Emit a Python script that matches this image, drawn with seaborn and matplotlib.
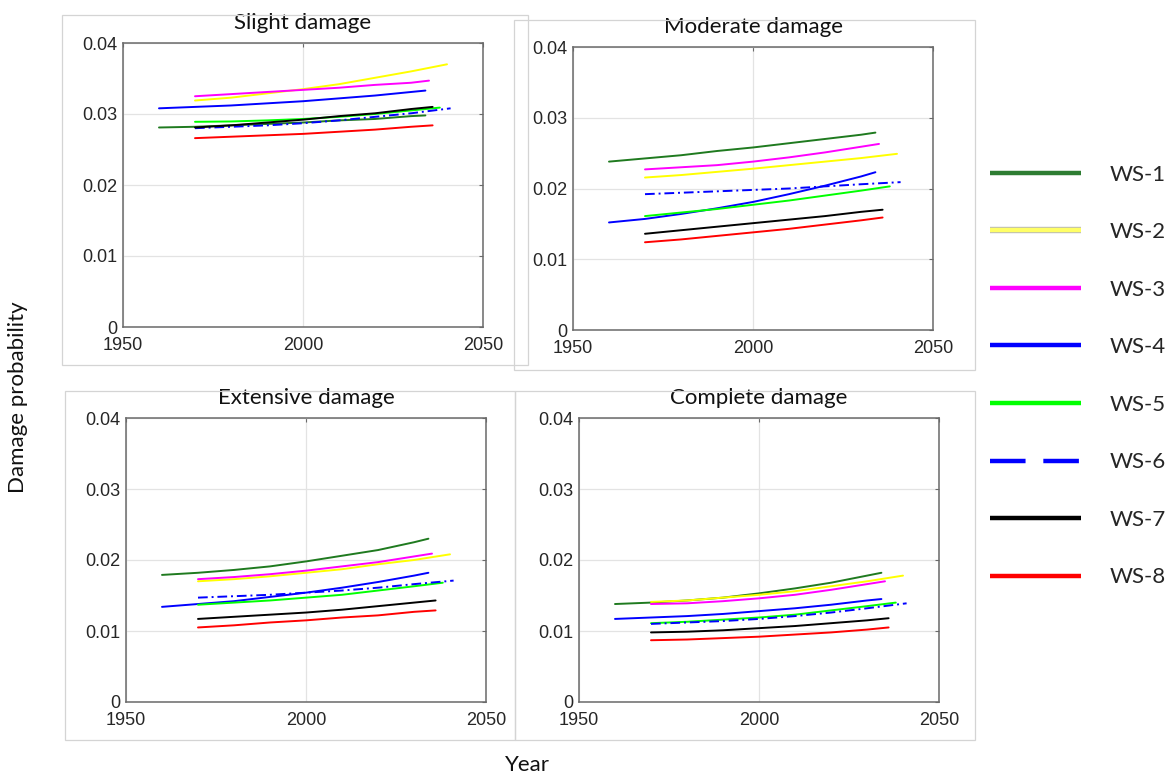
import matplotlib
matplotlib.use("Agg")
import matplotlib.pyplot as plt
import matplotlib.patheffects as pe
import seaborn as sns
import pandas as pd
from matplotlib.lines import Line2D
from matplotlib.patches import Rectangle

# ---------------- data ----------------
series = ["WS-1", "WS-2", "WS-3", "WS-4", "WS-5", "WS-6", "WS-7", "WS-8"]
panel_titles = ["Slight damage", "Moderate damage", "Extensive damage", "Complete damage"]

yrs_ws1 = [1960, 1970, 1980, 1990, 2000, 2010, 2020, 2030, 2034]
yrs_ws2 = [1970, 1980, 1990, 2000, 2010, 2020, 2030, 2040]
yrs_ws3 = [1970, 1980, 1990, 2000, 2010, 2020, 2030, 2035]
yrs_ws4 = [1960, 1970, 1980, 1990, 2000, 2010, 2020, 2030, 2034]
yrs_ws5 = [1970, 1980, 1990, 2000, 2010, 2020, 2030, 2038]
yrs_ws6 = [1970, 1980, 1990, 2000, 2010, 2020, 2030, 2041]
yrs_ws7 = [1970, 1980, 1990, 2000, 2010, 2020, 2030, 2036]
yrs_ws8 = [1970, 1980, 1990, 2000, 2010, 2020, 2030, 2036]

slight_vals = [
    [0.0281, 0.0282, 0.0284, 0.0286, 0.0288, 0.0291, 0.0293, 0.0297, 0.0298],
    [0.0319, 0.0323, 0.0329, 0.0335, 0.0342, 0.0351, 0.0360, 0.0370],
    [0.0325, 0.0328, 0.0331, 0.0334, 0.0337, 0.0341, 0.0344, 0.0347],
    [0.0308, 0.0310, 0.0312, 0.0315, 0.0318, 0.0322, 0.0326, 0.0331, 0.0333],
    [0.0289, 0.02895, 0.0291, 0.0293, 0.0296, 0.0300, 0.0305, 0.0309],
    [0.0280, 0.0282, 0.0284, 0.0287, 0.0291, 0.0296, 0.0301, 0.0308],
    [0.0281, 0.0284, 0.0288, 0.0292, 0.0297, 0.0301, 0.0307, 0.0310],
    [0.0266, 0.0268, 0.0270, 0.0272, 0.0275, 0.0278, 0.0282, 0.0284],
]
moderate_vals = [
    [0.0238, 0.02425, 0.0247, 0.0253, 0.0258, 0.0264, 0.0270, 0.0276, 0.0279],
    [0.02155, 0.0219, 0.02235, 0.0228, 0.0233, 0.0238, 0.0243, 0.0249],
    [0.0227, 0.0230, 0.0233, 0.0238, 0.0244, 0.0251, 0.0259, 0.0263],
    [0.0152, 0.0157, 0.0164, 0.0172, 0.0181, 0.0192, 0.0204, 0.0217, 0.0223],
    [0.0161, 0.0166, 0.0171, 0.0177, 0.0183, 0.0190, 0.0197, 0.0203],
    [0.0192, 0.0194, 0.0196, 0.0198, 0.0200, 0.0203, 0.0206, 0.0209],
    [0.0136, 0.0141, 0.0146, 0.0151, 0.0156, 0.0161, 0.0167, 0.0170],
    [0.0124, 0.0128, 0.0133, 0.0138, 0.0143, 0.0149, 0.0155, 0.0159],
]
extensive_vals = [
    [0.0179, 0.0182, 0.0186, 0.0191, 0.0198, 0.0206, 0.0214, 0.0225, 0.0230],
    [0.0170, 0.0173, 0.0177, 0.0182, 0.0187, 0.0194, 0.0200, 0.0208],
    [0.0173, 0.0176, 0.0180, 0.0185, 0.0191, 0.0197, 0.0205, 0.0209],
    [0.0134, 0.0138, 0.0142, 0.0148, 0.0154, 0.0161, 0.0169, 0.0178, 0.0182],
    [0.0137, 0.0140, 0.0143, 0.0147, 0.0151, 0.0157, 0.0163, 0.0168],
    [0.0147, 0.0149, 0.0151, 0.0154, 0.0157, 0.0161, 0.0166, 0.0171],
    [0.0117, 0.0120, 0.0123, 0.0126, 0.0130, 0.0135, 0.0140, 0.0143],
    [0.0105, 0.0108, 0.0112, 0.0115, 0.0119, 0.0122, 0.0127, 0.0129],
]
complete_vals = [
    [0.0138, 0.0140, 0.0143, 0.0147, 0.0153, 0.0160, 0.0168, 0.0178, 0.0182],
    [0.0141, 0.0143, 0.0147, 0.0151, 0.0156, 0.0163, 0.0170, 0.0178],
    [0.0138, 0.0139, 0.0142, 0.0146, 0.0151, 0.0158, 0.0166, 0.0170],
    [0.0117, 0.0119, 0.0121, 0.0124, 0.0128, 0.0132, 0.0137, 0.0143, 0.0145],
    [0.0111, 0.0113, 0.0116, 0.0119, 0.0123, 0.0129, 0.0135, 0.0140],
    [0.0110, 0.0112, 0.0114, 0.0117, 0.0121, 0.0126, 0.0132, 0.0139],
    [0.0098, 0.0099, 0.0101, 0.0104, 0.0107, 0.0111, 0.0115, 0.0118],
    [0.0087, 0.0088, 0.0090, 0.0092, 0.0095, 0.0098, 0.0102, 0.0105],
]

x_ticks = [1950, 2000, 2050]
y_ticks = [0, 0.01, 0.02, 0.03, 0.04]
y_tick_labels = ["0", "0.01", "0.02", "0.03", "0.04"]

# ---------------- styles ----------------
series_years = [yrs_ws1, yrs_ws2, yrs_ws3, yrs_ws4, yrs_ws5, yrs_ws6, yrs_ws7, yrs_ws8]
panel_vals = [slight_vals, moderate_vals, extensive_vals, complete_vals]

line_colors = ["#1f7a1f", "#ffff00", "#ff00ff", "#0000ff", "#00ff00", "#0000ff", "#000000", "#ff0000"]
legend_colors = ["#2e7d32", "#ffff66", "#ff00ff", "#0000ff", "#00ff00", "#0000ff", "#000000", "#ff0000"]
palette = dict(zip(series, line_colors))
dashes = {s: "" for s in series}
dashes["WS-6"] = (5, 2, 1, 2)

sns.set_style("white")
plt.rcParams["font.family"] = ["Liberation Sans", "DejaVu Sans"]
label_font = ["Lato", "DejaVu Sans"]

W, H = 1173, 780
fig = plt.figure(figsize=(W / 100, H / 100), dpi=100)

# light panel frames (as in the composed reference image)
frames = [(62, 15, 528, 365), (514, 20, 975, 370), (65, 391, 515, 740), (515, 391, 975, 740)]
for (x0, y0, x1, y1) in frames:
    fig.patches.append(Rectangle((x0 / W, 1 - y1 / H), (x1 - x0) / W, (y1 - y0) / H,
                                 transform=fig.transFigure, fill=False,
                                 edgecolor="#d4d4d4", linewidth=0.9, zorder=0))

axes_px = [(123, 43, 483, 327), (573, 47, 933, 330), (126, 418, 486, 702), (579, 418, 939, 702)]

for title, vals, (x0, y0, x1, y1) in zip(panel_titles, panel_vals, axes_px):
    ax = fig.add_axes([x0 / W, 1 - y1 / H, (x1 - x0) / W, (y1 - y0) / H])
    rows = []
    for s, yrs, v in zip(series, series_years, vals):
        for yr, val in zip(yrs, v):
            rows.append({"Year": yr, "p": val, "series": s})
    df = pd.DataFrame(rows)
    sns.lineplot(data=df, x="Year", y="p", hue="series", style="series",
                 palette=palette, dashes=dashes, linewidth=1.4, legend=False,
                 ax=ax, sort=True, estimator=None)
    ax.set_xlim(1950, 2050)
    ax.set_ylim(0, 0.04)
    ax.set_xticks(x_ticks)
    ax.set_yticks(y_ticks)
    ax.set_yticklabels(y_tick_labels)
    ax.set_xlabel("")
    ax.set_ylabel("")
    ax.grid(True, color="#e3e3e3", linewidth=0.9)
    ax.set_axisbelow(True)
    for sp in ax.spines.values():
        sp.set_color("#6a6a6a")
        sp.set_linewidth(1.1)
    ax.tick_params(direction="in", length=3, width=0.8, color="#6a6a6a",
                   top=True, right=True, labelsize=13, labelcolor="#262626")
    ax.tick_params(axis="x", pad=7)
    ax.tick_params(axis="y", pad=4)
    ax.set_title(title, fontsize=16, family=label_font, pad=10, color="#111111")

fig.text(18 / W, 1 - 397 / H, "Damage probability", rotation=90, ha="center", va="center",
         fontsize=16, family=label_font, color="#111111")
fig.text(527 / W, 1 - 765 / H, "Year", ha="center", va="center",
         fontsize=16, family=label_font, color="#111111")

# legend
handles = []
for s, c in zip(series, legend_colors):
    ls = (0, (8, 4)) if s == "WS-6" else "-"
    h = Line2D([], [], color=c, linewidth=3.2, linestyle=ls, solid_capstyle="butt",
               dash_capstyle="butt")
    if s == "WS-2":
        h.set_path_effects([pe.Stroke(linewidth=4.6, foreground="#b8b8b8"), pe.Normal()])
    handles.append(h)
fig.legend(handles, series, loc="center left", bbox_to_anchor=(990 / W, 1 - 376 / H),
           frameon=False, handlelength=4.1, handletextpad=1.3, labelspacing=1.69,
           borderaxespad=0, borderpad=0,
           prop={"family": label_font, "size": 16})

fig.savefig("out.png", dpi=100)
